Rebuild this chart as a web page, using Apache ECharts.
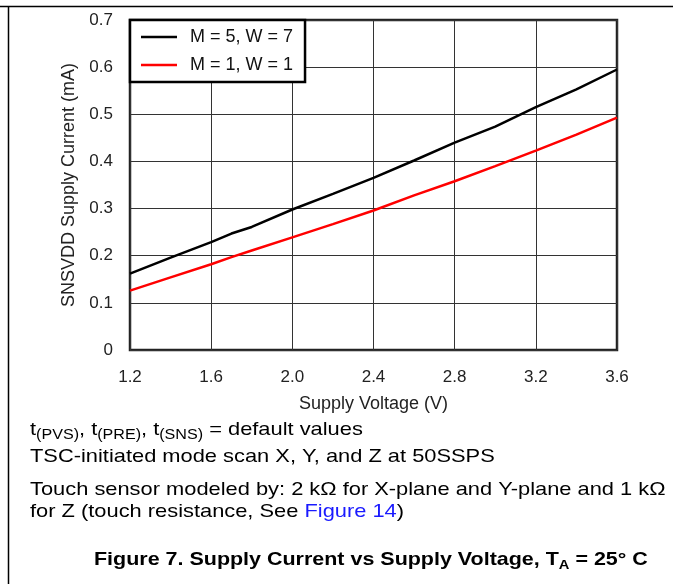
<!DOCTYPE html>
<html>
<head>
<meta charset="utf-8">
<script src="https://cdn.jsdelivr.net/npm/echarts@6/dist/echarts.min.js"></script>
<style>
html,body{margin:0;padding:0;background:#fff;}
#chart{width:673px;height:584px;}
</style>
</head>
<body>
<div id="chart"></div>
<script>
var xValues = [1.2, 1.4, 1.6, 1.7, 1.8, 2.0, 2.2, 2.4, 2.6, 2.8, 3.0, 3.2, 3.4, 3.6];
var blackSeries = [0.162, 0.196, 0.229, 0.247, 0.261, 0.298, 0.331, 0.365, 0.402, 0.440, 0.474, 0.515, 0.553, 0.595];
var redSeries = [0.126, 0.154, 0.182, 0.197, 0.211, 0.239, 0.267, 0.296, 0.328, 0.358, 0.390, 0.423, 0.457, 0.493];
var seriesNames = ['M = 5, W = 7', 'M = 1, W = 1'];
var xTicks = ['1.2', '1.6', '2.0', '2.4', '2.8', '3.2', '3.6'];
var yTicks = ['0', '0.1', '0.2', '0.3', '0.4', '0.5', '0.6', '0.7'];

function pairs(ys) { return xValues.map(function (x, i) { return [x, ys[i]]; }); }

var chart = echarts.init(document.getElementById('chart'), null, {renderer: 'canvas'});
var font = 'Liberation Sans, Arial, sans-serif';
var txt = '#222';
var SX = 1.15;
function noteLine(y, text, rich) {
  return {type: 'text', x: 30, y: y, scaleX: SX, silent: true, style: {
    x: 0, y: 0, text: text, verticalAlign: 'middle', rich: rich,
    fontFamily: font, fontSize: 19, fill: '#000'}};
}
var mainRich = {
  m: {fontFamily: font, fontSize: 19, fill: '#000', lineHeight: 24, verticalAlign: 'middle'},
  s: {fontFamily: font, fontSize: 14, fill: '#000', lineHeight: 12, verticalAlign: 'bottom'},
  b: {fontFamily: font, fontSize: 19, fill: '#1a1aff', lineHeight: 24, verticalAlign: 'middle'}
};
var option = {
  backgroundColor: '#fff',
  animation: false,
  grid: {left: 130, top: 20, right: 56, bottom: 234, show: true, borderColor: '#222', borderWidth: 2.5, backgroundColor: 'transparent'},
  legend: {
    orient: 'vertical', left: 130, top: 20,
    backgroundColor: '#fff', borderColor: '#000', borderWidth: 2.5,
    padding: [8, 12, 8, 11], itemGap: 10, itemWidth: 36, itemHeight: 2.5,
    icon: 'rect',
    textStyle: {fontFamily: font, fontSize: 18, color: '#111', lineHeight: 18, padding: [0, 0, 0, 8]},
    data: seriesNames
  },
  xAxis: {
    type: 'value', min: 1.2, max: 3.6, interval: 0.4,
    name: 'Supply Voltage (V)', nameLocation: 'middle', nameGap: 45,
    nameTextStyle: {fontFamily: font, fontSize: 18, color: txt},
    axisLine: {show: false}, axisTick: {show: false},
    axisLabel: {fontFamily: font, fontSize: 17, color: txt, margin: 19,
      formatter: function (v) { var i = Math.round((v - 1.2) / 0.4); return xTicks[i] !== undefined ? xTicks[i] : ''; }},
    splitLine: {show: true, lineStyle: {color: '#333', width: 1}}
  },
  yAxis: {
    type: 'value', min: 0, max: 0.7, interval: 0.1,
    name: 'SNSVDD Supply Current (mA)', nameLocation: 'middle', nameGap: 52,
    nameTextStyle: {fontFamily: font, fontSize: 18, color: txt},
    axisLine: {show: false}, axisTick: {show: false},
    axisLabel: {fontFamily: font, fontSize: 17, color: txt, margin: 17,
      formatter: function (v) { var i = Math.round(v / 0.1); return yTicks[i] !== undefined ? yTicks[i] : ''; }},
    splitLine: {show: true, lineStyle: {color: '#333', width: 1}}
  },
  series: [
    {name: seriesNames[0], type: 'line', data: pairs(blackSeries), showSymbol: false, symbol: 'none',
     lineStyle: {color: '#000', width: 2.5}, itemStyle: {color: '#000'}, z: 3},
    {name: seriesNames[1], type: 'line', data: pairs(redSeries), showSymbol: false, symbol: 'none',
     lineStyle: {color: '#ff0000', width: 2.5}, itemStyle: {color: '#ff0000'}, z: 3}
  ],
  graphic: [
    {type: 'line', shape: {x1: 0, y1: 6.5, x2: 673, y2: 6.5}, style: {stroke: '#000', lineWidth: 1.5}, silent: true},
    {type: 'line', shape: {x1: 8.5, y1: 6, x2: 8.5, y2: 584}, style: {stroke: '#000', lineWidth: 1.5}, silent: true},
    noteLine(430, '{m|t}{s|(PVS)}{m|, t}{s|(PRE)}{m|, t}{s|(SNS)}{m| = default values}', mainRich),
    noteLine(457, '{m|TSC-initiated mode scan X, Y, and Z at 50SSPS}', mainRich),
    noteLine(490, '{m|Touch sensor modeled by: 2 k\u03A9 for X-plane and Y-plane and 1 k\u03A9}', mainRich),
    noteLine(512, '{m|for Z (touch resistance, See }{b|Figure 14}{m|)}', mainRich),
    {type: 'text', x: 94, y: 560, scaleX: 1.13, silent: true, style: {
      x: 0, y: 0, verticalAlign: 'middle',
      text: '{m|Figure 7. Supply Current vs Supply Voltage, T}{s|A}{m| = 25\u00B0 C}',
      rich: {
        m: {fontFamily: font, fontSize: 19, fontWeight: 'bold', fill: '#000', lineHeight: 24, verticalAlign: 'middle'},
        s: {fontFamily: font, fontSize: 13, fontWeight: 'bold', fill: '#000', lineHeight: 12, verticalAlign: 'bottom'}
      }}}
  ]
};
chart.setOption(option);
</script>
</body>
</html>
